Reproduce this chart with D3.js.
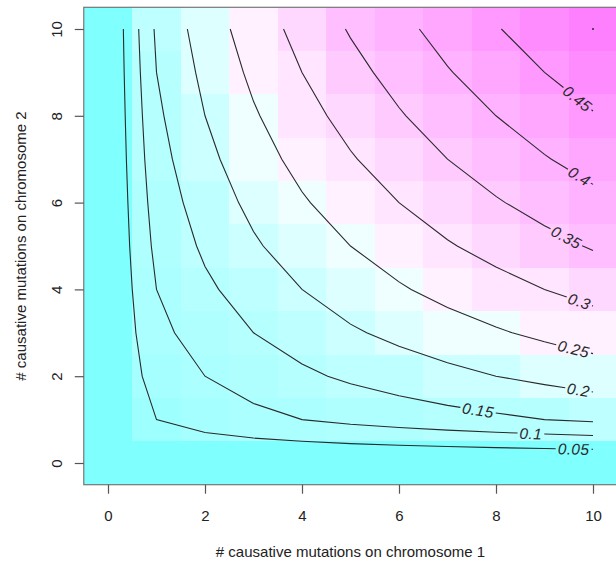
<!DOCTYPE html>
<html>
<head>
<meta charset="utf-8">
<script src="https://cdn.jsdelivr.net/npm/d3@7"></script>
<style>
  body { margin: 0; background: #fff; }
  text { font-family: "Liberation Sans", Arial, sans-serif; }
</style>
</head>
<body>
<div id="chart"></div>
<script>
// number of causative mutations on each chromosome
const mutX = [0, 1, 2, 3, 4, 5, 6, 7, 8, 9, 10];
const mutY = [0, 1, 2, 3, 4, 5, 6, 7, 8, 9, 10];

// surface values, one row per chromosome-2 count (row 0 = y 0)
const z = [
  [0, 0,     0,     0,     0,     0,     0,     0,     0,     0,     0    ],
  [0, 0.05,  0.071, 0.087, 0.1,   0.112, 0.122, 0.132, 0.141, 0.15,  0.158],
  [0, 0.071, 0.1,   0.122, 0.141, 0.158, 0.173, 0.187, 0.2,   0.212, 0.224],
  [0, 0.087, 0.122, 0.15,  0.173, 0.194, 0.212, 0.229, 0.245, 0.26,  0.274],
  [0, 0.1,   0.141, 0.173, 0.2,   0.224, 0.245, 0.265, 0.283, 0.3,   0.316],
  [0, 0.112, 0.158, 0.194, 0.224, 0.25,  0.274, 0.296, 0.316, 0.335, 0.354],
  [0, 0.122, 0.173, 0.212, 0.245, 0.274, 0.3,   0.324, 0.346, 0.367, 0.387],
  [0, 0.132, 0.187, 0.229, 0.265, 0.296, 0.324, 0.35,  0.374, 0.397, 0.418],
  [0, 0.141, 0.2,   0.245, 0.283, 0.316, 0.346, 0.374, 0.4,   0.424, 0.447],
  [0, 0.15,  0.212, 0.26,  0.3,   0.335, 0.367, 0.397, 0.424, 0.45,  0.474],
  [0, 0.158, 0.224, 0.274, 0.316, 0.354, 0.387, 0.418, 0.447, 0.474, 0.5  ]
];

const levels = [0.05, 0.1, 0.15, 0.2, 0.25, 0.3, 0.35, 0.4, 0.45, 0.5];
const xTicks = [0, 2, 4, 6, 8, 10];
const yTicks = [0, 2, 4, 6, 8, 10];
const xTitle = "# causative mutations on chromosome 1";
const yTitle = "# causative mutations on chromosome 2";

// where (in x units) each contour label sits
const labelAt = {0.05: 9.6, 0.1: 8.72, 0.15: 7.63, 0.2: 9.7, 0.25: 9.6,
                 0.3: 9.72, 0.35: 9.45, 0.4: 9.72, 0.45: 9.68};

// cyan -> white -> magenta bands, as they look in the picture
const palette = [
  "#80ffff", "#9effff", "#a6ffff", "#abffff", "#b0ffff",
  "#b6ffff", "#beffff", "#ccffff", "#ddffff", "#efffff",
  "#fff1ff", "#ffe5ff", "#ffd8ff", "#ffcbff", "#ffbeff",
  "#ffb2ff", "#ffa6ff", "#ff99ff", "#ff8cff", "#ff80ff"
];

const width = 616, height = 563;

const x = d3.scaleLinear().domain([-0.5, 10.5]).range([83.75, 617.25]);
const y = d3.scaleLinear().domain([-0.5, 10.5]).range([484.7, 7.3]);

const zMax = d3.max(z.flat());
const color = d3.scaleQuantize().domain([0, zMax]).range(palette);

const svg = d3.select("#chart").append("svg")
  .attr("width", width)
  .attr("height", height);

// image cells
const cells = [];
mutY.forEach((yv, j) => mutX.forEach((xv, i) => cells.push({xv, yv, v: z[j][i]})));

svg.append("g")
  .selectAll("rect")
  .data(cells)
  .join("rect")
    .attr("x", d => x(d.xv - 0.5))
    .attr("y", d => y(d.yv + 0.5))
    .attr("width", d => x(d.xv + 0.5) - x(d.xv - 0.5))
    .attr("height", d => y(d.yv - 0.5) - y(d.yv + 0.5))
    .attr("shape-rendering", "crispEdges")
    .attr("fill", d => color(d.v - 1e-9));

// marching squares on the grid, joined into polylines
function contourLines(level) {
  const nx = mutX.length, ny = mutY.length;
  const segs = [];
  const cross = (i0, j0, i1, j1) => {
    const a = z[j0][i0], b = z[j1][i1];
    const t = (level - a) / (b - a);
    return {
      key: (i0 === i1 ? "v" : "h") + i0 + "_" + j0,
      p: [mutX[i0] + t * (mutX[i1] - mutX[i0]), mutY[j0] + t * (mutY[j1] - mutY[j0])]
    };
  };
  for (let j = 0; j < ny - 1; j++) {
    for (let i = 0; i < nx - 1; i++) {
      const c = [[i, j], [i + 1, j], [i + 1, j + 1], [i, j + 1]];
      const ins = c.map(([a, b]) => z[b][a] >= level);
      const edges = [];
      for (let e = 0; e < 4; e++) {
        const p = c[e], q = c[(e + 1) % 4];
        if (ins[e] !== ins[(e + 1) % 4]) {
          const lo = (p[0] < q[0] || p[1] < q[1]) ? [p, q] : [q, p];
          edges.push(cross(lo[0][0], lo[0][1], lo[1][0], lo[1][1]));
        }
      }
      if (edges.length === 2) segs.push([edges[0], edges[1]]);
      else if (edges.length === 4) {
        const mid = (z[j][i] + z[j][i + 1] + z[j + 1][i + 1] + z[j + 1][i]) / 4;
        if ((mid >= level) === ins[0]) { segs.push([edges[0], edges[1]]); segs.push([edges[2], edges[3]]); }
        else { segs.push([edges[0], edges[3]]); segs.push([edges[1], edges[2]]); }
      }
    }
  }
  const byKey = new Map();
  segs.forEach((s, k) => s.forEach(e => {
    if (!byKey.has(e.key)) byKey.set(e.key, []);
    byKey.get(e.key).push(k);
  }));
  const used = segs.map(() => false);
  const lines = [];
  const starts = d3.range(segs.length).sort((a, b) => {
    const da = Math.min(...segs[a].map(e => byKey.get(e.key).length));
    const db = Math.min(...segs[b].map(e => byKey.get(e.key).length));
    return da - db;
  });
  for (const k0 of starts) {
    if (used[k0]) continue;
    let e = byKey.get(segs[k0][0].key).length === 1 ? segs[k0][0] : segs[k0][1];
    if (byKey.get(segs[k0][0].key).length !== 1 && byKey.get(segs[k0][1].key).length !== 1) e = segs[k0][0];
    const line = [e.p];
    let cur = k0;
    while (cur !== undefined) {
      used[cur] = true;
      const s = segs[cur];
      const other = s[0].key === e.key ? s[1] : s[0];
      line.push(other.p);
      e = other;
      cur = byKey.get(e.key).find(m => !used[m]);
    }
    lines.push(line);
  }
  return lines;
}

const lineGen = d3.line();
const gC = svg.append("g");

levels.forEach(level => {
  contourLines(level).forEach(line => {
    const pts = line.map(p => [x(p[0]), y(p[1])]);
    // arc length
    const cum = [0];
    for (let k = 1; k < pts.length; k++)
      cum.push(cum[k - 1] + Math.hypot(pts[k][0] - pts[k - 1][0], pts[k][1] - pts[k - 1][1]));
    const total = cum[cum.length - 1];
    const at = s => {
      s = Math.max(0, Math.min(total, s));
      let k = 1;
      while (k < pts.length - 1 && cum[k] < s) k++;
      const seg = cum[k] - cum[k - 1];
      const t = seg > 0 ? (s - cum[k - 1]) / seg : 0;
      return [pts[k - 1][0] + t * (pts[k][0] - pts[k - 1][0]), pts[k - 1][1] + t * (pts[k][1] - pts[k - 1][1])];
    };
    const slice = (s0, s1) => {
      const out = [at(s0)];
      for (let k = 0; k < pts.length; k++) if (cum[k] > s0 && cum[k] < s1) out.push(pts[k]);
      out.push(at(s1));
      return out;
    };

    const lbl = labelAt[level];
    let gap = null;
    if (lbl !== undefined && total > 30) {
      const tx = x(lbl);
      let sMid = null;
      for (let k = 1; k < pts.length && sMid === null; k++) {
        const a = pts[k - 1][0], b = pts[k][0];
        if ((a - tx) * (b - tx) <= 0 && a !== b) sMid = cum[k - 1] + (tx - a) / (b - a) * (cum[k] - cum[k - 1]);
      }
      if (sMid !== null) {
        const txt = gC.append("text")
          .attr("text-anchor", "middle")
          .attr("dy", "0.36em")
          .attr("font-size", 15.5)
          .attr("font-style", "italic")
          .attr("letter-spacing", 0.4)
          .attr("fill", "#2a2a2a")
          .text(String(level));
        const w = txt.node().getComputedTextLength();
        const p0 = at(sMid - w / 2), p1 = at(sMid + w / 2), pc = at(sMid);
        let ang = Math.atan2(p1[1] - p0[1], p1[0] - p0[0]) * 180 / Math.PI;
        if (ang > 90) ang -= 180;
        if (ang < -90) ang += 180;
        txt.attr("transform", `translate(${pc[0]},${pc[1]}) rotate(${ang})`);
        gap = [sMid - w / 2 - 2, sMid + w / 2 + 2];
      }
    }
    const pieces = gap ? [[0, gap[0]], [gap[1], total]] : [[0, total]];
    pieces.forEach(([s0, s1]) => {
      if (s1 - s0 < 0.5 && total > 0) return;
      gC.append("path")
        .attr("d", lineGen(total > 0 ? slice(s0, s1) : pts))
        .attr("fill", "none")
        .attr("stroke", "#2a2a2a")
        .attr("stroke-linecap", total > 0 ? "butt" : "round")
        .attr("stroke-width", total > 0 ? 1.1 : 2);
    });
  });
});

// box
svg.append("rect")
  .attr("x", x(-0.5)).attr("y", y(10.5))
  .attr("width", x(10.5) - x(-0.5)).attr("height", y(-0.5) - y(10.5))
  .attr("fill", "none").attr("stroke", "#777").attr("stroke-width", 1.2);

// axes
const gx = svg.append("g")
  .attr("transform", `translate(0,${y(-0.5)})`)
  .call(d3.axisBottom(x).tickValues(xTicks).tickSize(9).tickSizeOuter(0).tickFormat(d3.format("d")));
gx.select(".domain").remove();
gx.selectAll(".tick line").attr("stroke", "#555").attr("stroke-width", 1.2);
gx.selectAll(".tick text")
  .attr("font-size", 15).attr("font-family", "Liberation Sans, Arial, sans-serif")
  .attr("fill", "#222").attr("y", 36).attr("dy", 0);

const gy = svg.append("g")
  .attr("transform", `translate(${x(-0.5)},0)`)
  .call(d3.axisLeft(y).tickValues(yTicks).tickSize(9).tickSizeOuter(0).tickFormat(d3.format("d")));
gy.select(".domain").remove();
gy.selectAll(".tick line").attr("stroke", "#555").attr("stroke-width", 1.2);
gy.selectAll(".tick text")
  .attr("font-size", 15).attr("font-family", "Liberation Sans, Arial, sans-serif")
  .attr("fill", "#222")
  .attr("x", 0).attr("y", -21.5).attr("dy", 0)
  .attr("text-anchor", "middle")
  .attr("transform", "rotate(-90)");

svg.append("text")
  .attr("x", (x(-0.5) + x(10.5)) / 2).attr("y", 557)
  .attr("text-anchor", "middle").attr("font-size", 15).attr("fill", "#222")
  .text(xTitle);

svg.append("text")
  .attr("transform", `translate(26,${(y(-0.5) + y(10.5)) / 2}) rotate(-90)`)
  .attr("text-anchor", "middle").attr("font-size", 15).attr("fill", "#222")
  .text(yTitle);
</script>
</body>
</html>
